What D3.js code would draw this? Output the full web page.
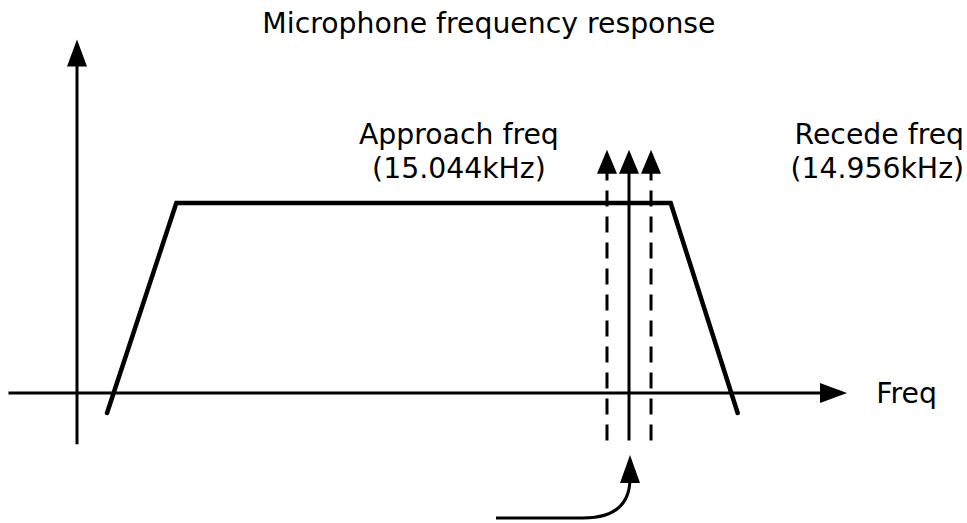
<!DOCTYPE html>
<html>
<head>
<meta charset="utf-8">
<script src="https://cdn.jsdelivr.net/npm/d3@7"></script>
<style>
  html, body { margin: 0; padding: 0; background: #fff; }
  text { font-family: "DejaVu Sans", Verdana, sans-serif; font-size: 28.3px; fill: #000; }
</style>
</head>
<body>
<div id="chart"></div>
<script>
// response shape (freq units, response units)
var shapeFreq = [3.9, 12.9, 77.1, 85.8];
var shapeResp = [-1.05, 10, 10, -1.05];

// tones: recede (dashed), carrier (solid), approach (dashed)
var toneFreq = [68.83, 71.69, 74.55];
var toneDash = [true, false, true];
var toneTop = 12.8, toneBottom = -2.5;

// axis extents
var xAxisFrom = -8.9, xAxisTo = 100;
var yAxisFrom = -2.7, yAxisTo = 18.6;

var labels = [
  {text: "Microphone frequency response", f: 53.5, r: 18.95, anchor: "middle"},
  {text: "Approach freq", f: 49.6, r: 13.1, anchor: "middle"},
  {text: "(15.044kHz)", f: 49.6, r: 11.3, anchor: "middle"},
  {text: "Recede freq", f: 115.2, r: 13.1, anchor: "end"},
  {text: "(14.956kHz)", f: 115.2, r: 11.3, anchor: "end"},
  {text: "Freq", f: 103.8, r: -0.55, anchor: "start"}
];

var width = 967, height = 523;

var svg = d3.select("#chart").append("svg")
    .attr("width", width)
    .attr("height", height);

var x = d3.scaleLinear().domain([0, 100]).range([77, 847]);
var y = d3.scaleLinear().domain([0, 10]).range([393, 203]);

var line = d3.line();

function arrowHead(tx, ty, dir, len, half) {
  // dir: "up" or "right"
  if (dir == "up")
    return "M" + tx + "," + ty + "L" + (tx - half) + "," + (ty + len) + "L" + (tx + half) + "," + (ty + len) + "Z";
  return "M" + tx + "," + ty + "L" + (tx - len) + "," + (ty - half) + "L" + (tx - len) + "," + (ty + half) + "Z";
}

// axes
svg.append("path")
    .attr("d", line([[x(0), y(yAxisFrom)], [x(0), y(yAxisTo) + 20]]))
    .attr("stroke", "#000").attr("stroke-width", 3).attr("fill", "none");
svg.append("path")
    .attr("d", arrowHead(x(0), y(yAxisTo), "up", 27, 10))
    .attr("fill", "#000");

svg.append("path")
    .attr("d", line([[x(xAxisFrom), y(0)], [x(xAxisTo) - 20, y(0)]]))
    .attr("stroke", "#000").attr("stroke-width", 3).attr("fill", "none");
svg.append("path")
    .attr("d", arrowHead(x(xAxisTo), y(0), "right", 27, 10))
    .attr("fill", "#000");

// response trapezoid
svg.append("path")
    .attr("d", line(shapeFreq.map(function (f, i) { return [x(f), y(shapeResp[i])]; })))
    .attr("stroke", "#000")
    .attr("stroke-width", 4.5)
    .attr("stroke-linejoin", "miter")
    .attr("stroke-linecap", "round")
    .attr("fill", "none");

// tone arrows
var tone = svg.append("g").selectAll("g")
    .data(toneFreq)
    .enter().append("g");

tone.append("path")
    .attr("d", function (d) { return line([[x(d), y(toneBottom)], [x(d), y(toneTop) + 20]]); })
    .attr("stroke", "#000")
    .attr("stroke-width", 3)
    .attr("stroke-dasharray", function (d, i) { return toneDash[i] ? "16,10" : null; })
    .attr("fill", "none");

tone.append("path")
    .attr("d", function (d) { return arrowHead(x(d), y(toneTop), "up", 24, 10); })
    .attr("fill", "#000");

// curved pointer to the carrier
var cx = x(toneFreq[1]);
var p = d3.path();
p.moveTo(496, 518);
p.lineTo(583, 518);
p.quadraticCurveTo(cx + 1, 518, cx + 1, 478);
svg.append("path")
    .attr("d", p.toString())
    .attr("stroke", "#000").attr("stroke-width", 3).attr("fill", "none");
svg.append("path")
    .attr("d", arrowHead(cx + 1, 455, "up", 28, 10))
    .attr("fill", "#000");

// labels
svg.selectAll("text.lbl")
    .data(labels)
    .enter().append("text")
    .attr("class", "lbl")
    .attr("x", function (d) { return x(d.f); })
    .attr("y", function (d) { return y(d.r); })
    .attr("text-anchor", function (d) { return d.anchor; })
    .text(function (d) { return d.text; });
</script>
</body>
</html>
